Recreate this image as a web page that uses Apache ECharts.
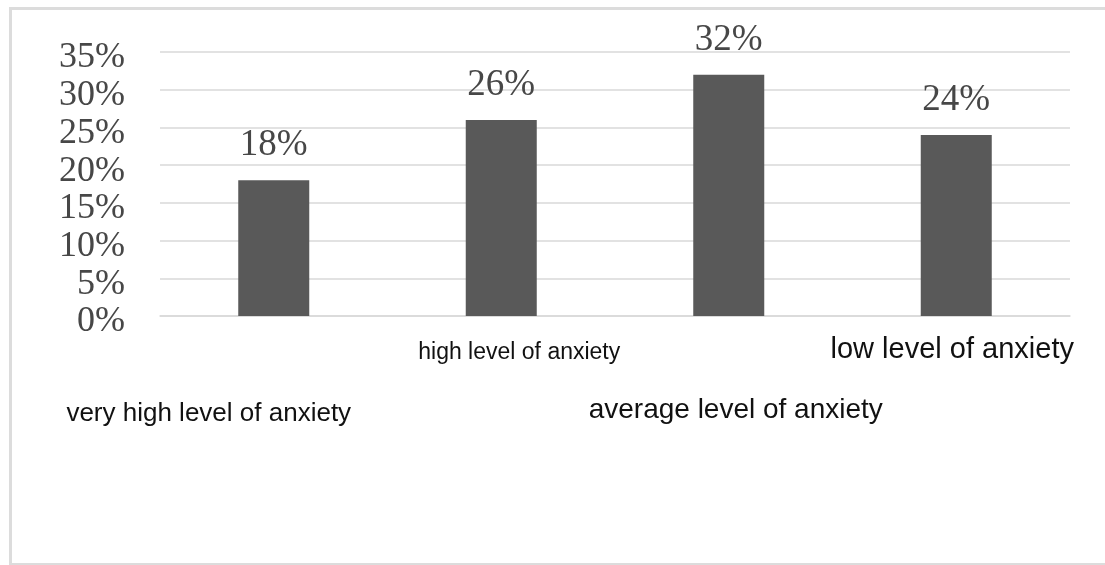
<!DOCTYPE html>
<html lang="en">
	<head>
		<meta charset="UTF-8" />
		<title>Anxiety levels</title>
		<style>
			html, body { margin: 0; padding: 0; background: #fff; }
		</style>
	</head>
	<body>
		<div id="main" style="width: 1105px; height: 565px"></div>
		<script src="https://cdn.jsdelivr.net/npm/echarts@6/dist/echarts.min.js"></script>
		<script>
			// data
			var categories = [
				"very high level of anxiety",
				"high level of anxiety",
				"average level of anxiety",
				"low level of anxiety",
			];
			var values = [18, 26, 32, 24];
			var yMin = 0;
			var yMax = 35;
			var yStep = 5;

			// the category labels are scattered under the bars, one style each
			// (padding moves the text by half its size, hence the big numbers)
			var labelStyles = {
				c0: { fontSize: 26, lineHeight: 26, padding: [149, 130, 0, 0] },
				c1: { fontSize: 23, lineHeight: 23, padding: [30, 0, 0, 36] },
				c2: { fontSize: 28, lineHeight: 28, padding: [141, 0, 0, 14] },
				c3: { fontSize: 29, lineHeight: 29, padding: [18, 8, 0, 0] },
			};

			var myChart = echarts.init(document.getElementById("main"));

			var option = {
				backgroundColor: "#fff",
				animation: false,
				graphic: [
					{
						type: "rect",
						left: 8,
						top: 6,
						shape: { width: 1110, height: 556 },
						style: { fill: "none", stroke: "#dcdcdc", lineWidth: 3 },
						silent: true,
					},
				],
				grid: {
					left: 160,
					right: 35,
					top: 52,
					bottom: 249,
				},
				xAxis: {
					type: "category",
					data: categories,
					axisLine: { lineStyle: { color: "#d9d9d9", width: 1.5 } },
					axisTick: { show: false },
					axisLabel: {
						interval: 0,
						margin: 10,
						color: "#111",
						fontFamily: "Liberation Sans, Arial, sans-serif",
						formatter: function (value, index) {
							return "{c" + index + "|" + value + "}";
						},
						rich: labelStyles,
					},
				},
				yAxis: {
					type: "value",
					min: yMin,
					max: yMax,
					interval: yStep,
					axisLine: { show: false },
					axisTick: { show: false },
					splitLine: { lineStyle: { color: "#d9d9d9", width: 1.5 } },
					axisLabel: {
						margin: 35,
						color: "#474747",
						fontSize: 36,
						// labels sit a little below their grid lines
						verticalAlign: "top",
						lineHeight: 12,
						fontFamily: "Liberation Serif, Times New Roman, serif",
						formatter: "{value}%",
					},
				},
				series: [
					{
						type: "bar",
						data: values,
						barWidth: 71,
						itemStyle: { color: "#595959" },
						label: {
							show: true,
							position: "top",
							distance: 16,
							color: "#474747",
							fontSize: 37,
							fontFamily: "Liberation Serif, Times New Roman, serif",
							formatter: "{c}%",
						},
					},
				],
			};

			myChart.setOption(option);
		</script>
	</body>
</html>
